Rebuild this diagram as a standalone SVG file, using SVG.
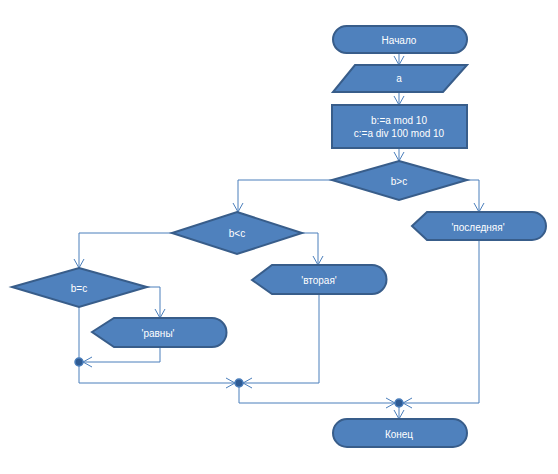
<svg xmlns="http://www.w3.org/2000/svg" width="558" height="474" viewBox="0 0 558 474">
<style>
.s{fill:#4f81bd;stroke:#385d8a;stroke-width:2}
.t{fill:#fff;font-family:"Liberation Sans",Arial,sans-serif;font-size:10px;text-anchor:middle;dominant-baseline:central}
.c{fill:none;stroke:#4a7ebb;stroke-width:1}
.j{fill:#2f5b93;stroke:#4a7ebb;stroke-width:1.5}
</style>
<defs>
<marker id="a" markerWidth="12" markerHeight="12" refX="0" refY="0" viewBox="-10 -6 12 12" orient="auto" markerUnits="userSpaceOnUse">
<path d="M-9,-5 L0,0 L-9,5" fill="none" stroke="#4a7ebb" stroke-width="1"/>
</marker>
</defs>
<rect width="558" height="474" fill="#fff"/>
<g id="connectors">
<path class="c" d="M399,53 V65" marker-end="url(#a)"/>
<path class="c" d="M399,92 V105" marker-end="url(#a)"/>
<path class="c" d="M399,148 V161" marker-end="url(#a)"/>
<path class="c" d="M332,180 H238 V212" marker-end="url(#a)"/>
<path class="c" d="M467,180 H479 V212" marker-end="url(#a)"/>
<path class="c" d="M302,233 H318 V265" marker-end="url(#a)"/>
<path class="c" d="M172,233 H79 V268" marker-end="url(#a)"/>
<path class="c" d="M147,287 H160 V318" marker-end="url(#a)"/>
<path class="c" d="M79,307 V358"/>
<path class="c" d="M160,347 V362 H83" marker-end="url(#a)"/>
<path class="c" d="M79,366 V383 H235" marker-end="url(#a)"/>
<path class="c" d="M319,294 V383 H243" marker-end="url(#a)"/>
<path class="c" d="M239,387 V403 H395" marker-end="url(#a)"/>
<path class="c" d="M479,240 V403 H403" marker-end="url(#a)"/>
<path class="c" d="M399,407 V419" marker-end="url(#a)"/>
</g>
<g id="start"><rect class="s" x="333" y="26" width="134" height="27" rx="13.5"/><text class="t" x="399" y="40">Начало</text></g>
<g id="input"><polygon class="s" points="355,65 467,65 443,92 333,92"/><text class="t" x="399" y="78">a</text></g>
<g id="process"><rect class="s" x="332" y="105" width="135" height="43"/><text class="t" x="399" y="120">b:=a mod 10</text><text class="t" x="399" y="133">c:=a div 100 mod 10</text></g>
<g id="dec1"><polygon class="s" points="399,161 467,180 399,200 332,180"/><text class="t" x="399" y="181">b&gt;c</text></g>
<g id="dec2"><polygon class="s" points="237,212 302,233 237,254 172,233"/><text class="t" x="237" y="233">b&lt;c</text></g>
<g id="dec3"><polygon class="s" points="79,268 147,287 79,307 12,287"/><text class="t" x="79" y="288">b=c</text></g>
<g id="last"><path class="s" d="M412,226 L427,212 H532 A14,14 0 0 1 532,240 H427 Z"/><text class="t" x="478" y="227">'последняя'</text></g>
<g id="second"><path class="s" d="M252,280 L272,265 H372 A14.5,14.5 0 0 1 372,294 H272 Z"/><text class="t" x="319" y="280">'вторая'</text></g>
<g id="equal"><path class="s" d="M92,332 L114,318 H212 A14.5,14.5 0 0 1 212,347 H114 Z"/><text class="t" x="158" y="333">'равны'</text></g>
<g id="j1"><circle class="j" cx="79" cy="362" r="4"/></g>
<g id="j2"><circle class="j" cx="239" cy="383" r="4"/></g>
<g id="j3"><circle class="j" cx="399" cy="403" r="4"/></g>
<g id="end"><rect class="s" x="333" y="419" width="134" height="28" rx="14"/><text class="t" x="399" y="434">Конец</text></g>
</svg>
